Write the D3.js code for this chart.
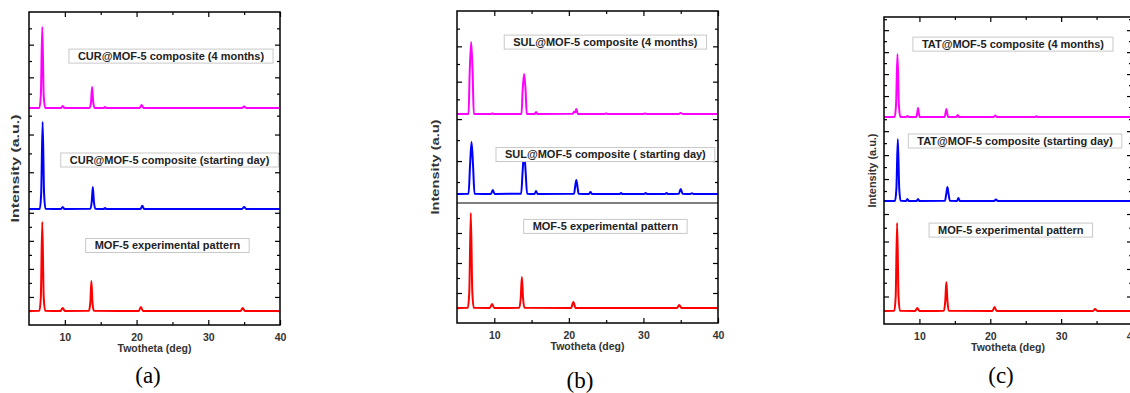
<!DOCTYPE html>
<html>
<head>
<meta charset="utf-8">
<script src="https://cdn.jsdelivr.net/npm/d3@7"></script>
<style>
body { margin: 0; background: #fff; }
svg { display: block; }
</style>
</head>
<body>
<script>
// shared x axis (2theta, deg)
var xDomain = [5, 40];
var xMajor = [10, 20, 30, 40];
var xMinor = [15, 25, 35];

// each pattern: [2theta, intensity (counts)]
// panel (a) CUR@MOF-5
var curAged = [[5,120],[6.45,125],[6.65,900],[6.85,5080],[7.05,900],[7.25,130],[9.45,120],[9.7,245],[9.95,120],
  [13.45,130],[13.65,500],[13.8,1410],[13.95,500],[14.15,130],[15.4,120],[15.6,185],[15.8,120],
  [20.45,125],[20.7,305],[20.95,125],[34.7,120],[35.0,215],[35.3,120],[40,120]];
var curStart = [[5,50],[6.5,55],[6.7,900],[6.9,4660],[7.1,900],[7.3,60],[9.45,50],[9.7,160],[9.95,50],
  [13.55,60],[13.75,450],[13.9,1220],[14.05,450],[14.25,60],[15.4,50],[15.6,106],[15.8,50],
  [20.55,55],[20.8,230],[21.05,55],[34.7,50],[35.0,160],[35.3,50],[40,50]];
var mofA = [[5,1000],[6.45,1010],[6.65,2000],[6.85,7340],[7.05,2000],[7.25,1020],[9.4,1000],[9.7,1210],[10.0,1000],
  [13.35,1010],[13.55,1600],[13.7,3140],[13.85,1600],[14.05,1010],[20.3,1000],[20.6,1280],[20.9,1000],
  [34.5,1000],[34.8,1210],[35.1,1000],[40,1000]];

// panel (b) SUL@MOF-5
var sulAged = [[5,170],[6.55,175],[6.7,2500],[6.9,4250],[7.1,2500],[7.25,175],[9.5,170],[9.75,200],[10,170],
  [13.65,175],[13.8,1500],[14.0,2430],[14.2,1500],[14.35,175],[15.4,170],[15.6,280],[15.8,170],
  [20.5,180],[20.7,300],[20.85,260],[21.0,450],[21.2,175],[24.8,170],[25.0,200],[25.2,170],
  [30.0,170],[30.2,200],[30.4,170],[34.7,170],[35.0,225],[35.3,170],[40,170]];
var sulStart = [[5,430],[6.55,440],[6.75,1800],[6.95,2910],[7.15,1800],[7.35,440],[9.55,430],[9.8,620],[10.05,430],
  [13.6,440],[13.8,1500],[14.0,2430],[14.2,1500],[14.4,440],[15.4,430],[15.6,570],[15.8,430],
  [20.7,440],[20.85,800],[21.0,1100],[21.15,800],[21.3,440],[22.7,430],[22.9,520],[23.1,430],
  [26.8,430],[27.0,480],[27.2,430],[30.1,430],[30.3,480],[30.5,430],[32.9,430],[33.1,480],[33.3,430],
  [34.75,440],[35.0,670],[35.25,440],[36.3,430],[36.5,470],[36.7,430],[40,430]];
var mofB = [[5,1000],[6.45,1010],[6.65,2100],[6.85,7330],[7.05,2100],[7.25,1010],[9.4,1000],[9.7,1270],[10,1000],
  [13.35,1010],[13.55,1700],[13.7,3070],[13.85,1700],[14.05,1010],[20.3,1000],[20.6,1400],[20.9,1000],
  [34.5,1000],[34.8,1200],[35.1,1000],[40,1000]];

// panel (c) TAT@MOF-5
var tatAged = [[5,90],[6.5,95],[6.7,1200],[6.9,5820],[7.1,1200],[7.3,100],[8.1,90],[8.3,180],[8.5,90],
  [9.55,100],[9.7,500],[9.8,910],[9.9,500],[10.05,100],[13.55,100],[13.7,500],[13.8,820],[13.9,500],[14.05,100],
  [15.2,90],[15.4,270],[15.6,90],[20.5,90],[20.7,220],[20.9,90],[26.3,90],[26.5,150],[26.7,90],[40,90]];
var tatStart = [[5,170],[6.55,175],[6.75,1200],[6.95,5340],[7.15,1200],[7.35,180],[8.1,170],[8.3,330],[8.5,170],
  [9.6,170],[9.8,330],[10.0,170],[13.6,180],[13.8,800],[13.95,1340],[14.1,800],[14.3,180],
  [15.3,170],[15.5,420],[15.7,170],[20.55,170],[20.8,290],[21.05,170],[40,170]];
var mofC = [[5,945],[6.45,955],[6.65,2000],[6.85,7340],[7.05,2000],[7.25,955],[9.4,945],[9.7,1160],[10,945],
  [13.45,955],[13.65,1700],[13.8,3050],[13.95,1700],[14.15,955],[20.3,945],[20.6,1240],[20.9,945],
  [34.5,945],[34.8,1090],[35.1,945],[40,945]];

// labels: [text, 2theta centre, intensity centre]
var labelsA = [["CUR@MOF-5 composite (4 months)", 24.8, 3300],
  ["CUR@MOF-5 composite (starting day)", 24.6, 2650],
  ["MOF-5 experimental pattern", 24.3, 5670]];
var labelsB = [["SUL@MOF-5 composite (4 months)", 24.9, 4240],
  ["SUL@MOF-5 composite ( starting day)", 24.9, 2310],
  ["MOF-5 experimental pattern", 24.9, 6440]];
var labelsC = [["TAT@MOF-5 composite (4 months)", 23.2, 6730],
  ["TAT@MOF-5 composite (starting day)", 23.5, 5180],
  ["MOF-5 experimental pattern", 22.9, 6830]];

var colors = ["#ff00ff", "#0000ff", "#ff0000"];

var panels = [
  {left: 29, right: 280, top: 12, bottom: 325, subs: [[12,110],[110,210],[210,325]], yMax: [6000,5300,8200],
   series: [curAged, curStart, mofA], labels: labelsA, divider: [], yTitle: "Intensity (a.u.)", yTitleX: 15, yTitleLen: 108,
   letter: "(a)", letterX: 148, letterY: 383},
  {left: 457, right: 718, top: 11, bottom: 323, subs: [[11,117],[117,203],[203,323]], yMax: [6000,4100,8000],
   series: [sulAged, sulStart, mofB], labels: labelsB, divider: [203], yTitle: "Intensity (a.u)", yTitleX: 435, yTitleLen: 95,
   letter: "(b)", letterX: 580, letterY: 388},
  {left: 884, right: 1132, top: 17, bottom: 324, subs: [[17,118],[118,203],[203,324]], yMax: [9200,7100,8800],
   series: [tatAged, tatStart, mofC], labels: labelsC, divider: [], yTitle: "Intensity (a.u.)", yTitleX: 872, yTitleLen: 74,
   letter: "(c)", letterX: 1001, letterY: 383}
];

var svg = d3.select("body").append("svg")
    .attr("width", 1130)
    .attr("height", 393);

function inward(sel) {
  sel.select(".domain").remove();
  sel.selectAll(".tick line").attr("stroke", "#000").attr("stroke-width", 1.2);
}

panels.forEach(function(p) {
  var g = svg.append("g");
  var x = d3.scaleLinear().domain(xDomain).range([p.left, p.right]);

  // x axis bottom + top (ticks inward)
  g.append("g").attr("transform", "translate(0," + p.bottom + ")")
    .call(d3.axisBottom(x).tickValues(xMajor).tickSize(-5).tickPadding(9).tickFormat(d3.format("d")))
    .call(inward)
    .selectAll("text")
      .style("font-family", "'Liberation Sans', Arial, sans-serif")
      .style("font-weight", "bold")
      .style("font-size", "10.5px")
      .attr("fill", "#333");
  g.append("g").attr("transform", "translate(0," + p.bottom + ")")
    .call(d3.axisBottom(x).tickValues(xMinor).tickSize(-3).tickFormat(""))
    .call(inward);
  g.append("g").attr("transform", "translate(0," + p.top + ")")
    .call(d3.axisTop(x).tickValues(xMajor).tickSize(-5).tickFormat(""))
    .call(inward);
  g.append("g").attr("transform", "translate(0," + p.top + ")")
    .call(d3.axisTop(x).tickValues(xMinor).tickSize(-3).tickFormat(""))
    .call(inward);

  // stacked sub panels
  p.subs.forEach(function(s, i) {
    var y = d3.scaleLinear().domain([0, p.yMax[i]]).range([s[1], s[0]]);
    var all = d3.range(1000, p.yMax[i], 1000);
    var maj = all.filter(function(v) { return v % 2000 === 0; });
    var mnr = all.filter(function(v) { return v % 2000 !== 0; });

    [[d3.axisLeft, p.left], [d3.axisRight, p.right]].forEach(function(a) {
      g.append("g").attr("transform", "translate(" + a[1] + ",0)")
        .call(a[0](y).tickValues(maj).tickSize(-5).tickFormat(""))
        .call(inward);
      g.append("g").attr("transform", "translate(" + a[1] + ",0)")
        .call(a[0](y).tickValues(mnr).tickSize(-3).tickFormat(""))
        .call(inward);
    });

    var line = d3.line()
      .x(function(d) { return x(d[0]); })
      .y(function(d) { return y(d[1]); })
      .curve(d3.curveMonotoneX);

    g.append("path")
      .datum(p.series[i])
      .attr("d", line)
      .attr("fill", "none")
      .attr("stroke", colors[i])
      .attr("stroke-width", 2)
      .attr("stroke-linejoin", "round");

    // label box
    var lb = p.labels[i];
    var lg = g.append("g");
    var t = lg.append("text")
      .attr("x", x(lb[1]))
      .attr("y", y(lb[2]))
      .attr("dy", "0.35em")
      .attr("text-anchor", "middle")
      .style("font-family", "'Liberation Sans', Arial, sans-serif")
      .style("font-weight", "bold")
      .style("font-size", "11px")
      .attr("fill", "#222")
      .text(lb[0]);
    var w = t.node().getComputedTextLength();
    lg.insert("rect", "text")
      .attr("x", x(lb[1]) - w / 2 - 9)
      .attr("y", y(lb[2]) - 7)
      .attr("width", w + 18)
      .attr("height", 14)
      .attr("fill", "#fff")
      .attr("stroke", "#c8c8c8")
      .attr("stroke-width", 1);
  });

  // divider lines between stacked panels
  p.divider.forEach(function(d) {
    g.append("line")
      .attr("x1", p.left).attr("x2", p.right)
      .attr("y1", d).attr("y2", d)
      .attr("stroke", "#000").attr("stroke-width", 1.2);
  });

  // frame
  g.append("rect")
    .attr("x", p.left).attr("y", p.top)
    .attr("width", p.right - p.left).attr("height", p.bottom - p.top)
    .attr("fill", "none").attr("stroke", "#000").attr("stroke-width", 1.5);

  // axis titles
  g.append("text")
    .attr("x", (p.left + p.right) / 2)
    .attr("y", p.bottom + 27)
    .attr("text-anchor", "middle")
    .style("font-family", "'Liberation Sans', Arial, sans-serif")
    .style("font-weight", "bold")
    .style("font-size", "10.5px")
    .attr("fill", "#333")
    .text("Twotheta (deg)");

  g.append("text")
    .attr("transform", "translate(" + p.yTitleX + "," + (p.top + p.bottom) / 2 + ") rotate(-90)")
    .attr("dy", "0.35em")
    .attr("text-anchor", "middle")
    .attr("textLength", p.yTitleLen)
    .attr("lengthAdjust", "spacingAndGlyphs")
    .style("font-family", "'Liberation Sans', Arial, sans-serif")
    .style("font-weight", "bold")
    .style("font-size", "10.5px")
    .attr("fill", "#333")
    .text(p.yTitle);

  // panel letter
  g.append("text")
    .attr("x", p.letterX)
    .attr("y", p.letterY)
    .attr("text-anchor", "middle")
    .style("font-family", "'Liberation Serif', 'Times New Roman', serif")
    .style("font-size", "23px")
    .attr("fill", "#000")
    .text(p.letter);
});
</script>
</body>
</html>
